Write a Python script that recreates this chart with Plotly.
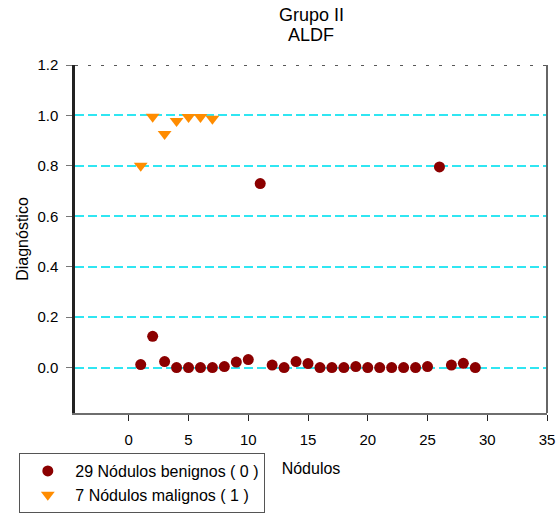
import plotly.graph_objects as go

# Node index for each group
benign_x = list(range(1, 30))
benign_y = [0.012, 0.124, 0.024, 0.0, 0.0, 0.0, 0.0, 0.004, 0.022, 0.032,
            0.730, 0.010, 0.0, 0.024, 0.016, 0.0, 0.0, 0.0, 0.004, 0.0,
            0.0, 0.0, 0.0, 0.0, 0.004, 0.796, 0.010, 0.017, 0.0]

malign_x = [1, 2, 3, 4, 5, 6, 7]
malign_y = [0.80, 0.995, 0.926, 0.978, 0.994, 0.994, 0.987]

y_ticks = [0.0, 0.2, 0.4, 0.6, 0.8, 1.0, 1.2]
x_ticks = [0, 5, 10, 15, 20, 25, 30, 35]

FONT = "Liberation Sans, Arial, sans-serif"

fig = go.Figure()
fig.add_trace(go.Scatter(
    x=benign_x, y=benign_y, mode="markers",
    name="29 Nódulos benignos ( 0 )",
    marker=dict(symbol="circle", size=11, color="#8B0000", line=dict(width=0)),
))
fig.add_trace(go.Scatter(
    x=malign_x, y=malign_y, mode="markers",
    name="7 Nódulos malignos ( 1 )",
    marker=dict(symbol="triangle-down", size=12, color="#FF8C00", line=dict(width=0)),
))

fig.update_layout(
    width=558, height=513,
    margin=dict(l=75, r=11, t=65, b=100, autoexpand=False),
    paper_bgcolor="white", plot_bgcolor="white",
    font=dict(family=FONT, size=15, color="black"),
    showlegend=True,
    legend=dict(
        x=-0.118, y=-0.115, xanchor="left", yanchor="top",
        bordercolor="#555555", borderwidth=1, bgcolor="white",
        font=dict(family=FONT, size=16, color="black"),
        itemwidth=45, tracegroupgap=0,
    ),
    xaxis=dict(
        range=[-4.5, 35], tickvals=x_ticks, showgrid=False, zeroline=False,
        showline=True, linecolor="#6e6e6e", linewidth=2,
        ticks="outside", ticklen=6, tickcolor="#222222", tickwidth=1,
        tickfont=dict(size=15), ticklabelstandoff=6,
        title=dict(text="Nódulos", font=dict(size=16), standoff=16),
    ),
    yaxis=dict(
        range=[-0.18, 1.2], tickvals=y_ticks, tickformat=".1f",
        showgrid=True, gridcolor="#30E6F2", gridwidth=1.5, griddash="9px,4px",
        zeroline=False, showline=True, linecolor="#222222", linewidth=2.5,
        ticks="outside", ticklen=6, tickcolor="#777777", tickwidth=1,
        tickfont=dict(size=15), ticklabelstandoff=5,
        title=dict(text="Diagnóstico", font=dict(size=16), standoff=5),
    ),
    shapes=[
        # right frame edge
        dict(type="line", xref="paper", yref="paper", x0=1, x1=1, y0=0, y1=1,
             line=dict(color="#666666", width=2)),
        # dashed top frame edge
        dict(type="line", xref="paper", yref="y", x0=0, x1=1, y0=1.2, y1=1.2,
             line=dict(color="#222222", width=1.5, dash="3px,10px")),
    ],
    annotations=[
        dict(text="Grupo II", xref="paper", yref="paper", x=0.5, y=1,
             yshift=50, showarrow=False, font=dict(size=18), xanchor="center",
             yanchor="middle"),
        dict(text="ALDF", xref="paper", yref="paper", x=0.5, y=1,
             yshift=30, showarrow=False, font=dict(size=18), xanchor="center",
             yanchor="middle"),
    ],
)

fig.write_html("out.html")
